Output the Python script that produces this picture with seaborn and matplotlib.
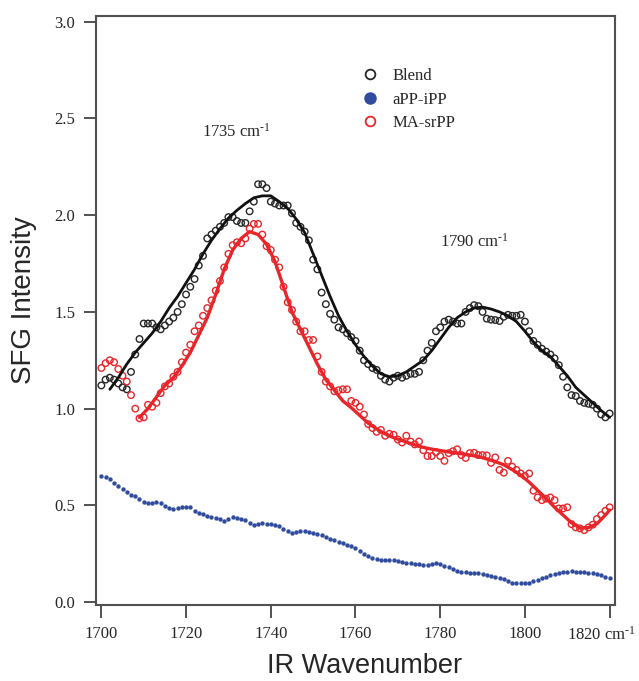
import numpy as np
import pandas as pd
import matplotlib
matplotlib.use("Agg")
import matplotlib.pyplot as plt
import matplotlib.transforms as mtransforms
import seaborn as sns
from matplotlib.lines import Line2D

# wavenumber axis for measured points (1 cm-1 step)
wavenumber = list(range(1700, 1821))

blend = [
    1.12, 1.15, 1.16, 1.15, 1.13, 1.11, 1.10, 1.19, 1.28, 1.36,
    1.44, 1.44, 1.44, 1.42, 1.41, 1.43, 1.45, 1.47, 1.50, 1.54,
    1.59, 1.63, 1.67, 1.74, 1.79, 1.88, 1.90, 1.92, 1.94, 1.96,
    1.99, 1.99, 1.97, 1.96, 1.96, 2.02, 2.07, 2.16, 2.16, 2.14,
    2.07, 2.06, 2.05, 2.05, 2.05, 2.01, 1.96, 1.94, 1.915, 1.87,
    1.77, 1.72, 1.60, 1.54, 1.49, 1.46, 1.42, 1.41, 1.39, 1.37,
    1.35, 1.30, 1.25, 1.23, 1.21, 1.20, 1.17, 1.15, 1.14, 1.16,
    1.17, 1.16, 1.17, 1.18, 1.18, 1.19, 1.25, 1.30, 1.34, 1.40,
    1.42, 1.45, 1.46, 1.45, 1.44, 1.44, 1.50, 1.52, 1.535, 1.53,
    1.50, 1.465, 1.46, 1.458, 1.453, 1.475, 1.485, 1.48, 1.48, 1.485,
    1.45, 1.40, 1.35, 1.33, 1.31, 1.295, 1.28, 1.26, 1.225, 1.165,
    1.11, 1.07, 1.065, 1.04, 1.03, 1.025, 1.02, 1.00, 0.97, 0.955,
    0.975,
]

app_ipp = [
    0.65, 0.645, 0.635, 0.615, 0.598, 0.585, 0.568, 0.556, 0.548, 0.535,
    0.52, 0.512, 0.513, 0.515, 0.512, 0.498, 0.488, 0.48, 0.488, 0.492,
    0.492, 0.49, 0.472, 0.462, 0.455, 0.446, 0.44, 0.436, 0.428, 0.42,
    0.43, 0.438, 0.435, 0.428, 0.422, 0.41, 0.40, 0.405, 0.408, 0.406,
    0.405, 0.398, 0.392, 0.38, 0.366, 0.356, 0.36, 0.368, 0.366, 0.362,
    0.358, 0.352, 0.345, 0.338, 0.328, 0.32, 0.313, 0.305, 0.297, 0.29,
    0.28, 0.262, 0.25, 0.24, 0.228, 0.222, 0.219, 0.218, 0.219, 0.217,
    0.21, 0.205, 0.202, 0.20, 0.198, 0.196, 0.193, 0.194, 0.197, 0.20,
    0.195, 0.188, 0.182, 0.172, 0.162, 0.156, 0.154, 0.152, 0.15, 0.148,
    0.145, 0.14, 0.136, 0.132, 0.127, 0.118, 0.108, 0.101, 0.10, 0.10,
    0.10, 0.101, 0.108, 0.116, 0.122, 0.128, 0.138, 0.146, 0.152, 0.156,
    0.158, 0.162, 0.158, 0.155, 0.154, 0.153, 0.152, 0.146, 0.14, 0.132,
    0.122,
]

ma_srpp = [
    1.21, 1.235, 1.25, 1.24, 1.205, 1.17, 1.14, 1.07, 1.00, 0.95,
    0.955, 1.02, 1.01, 1.03, 1.08, 1.115, 1.13, 1.165, 1.19, 1.24,
    1.29, 1.33, 1.40, 1.43, 1.48, 1.52, 1.56, 1.61, 1.66, 1.73,
    1.80, 1.845, 1.86, 1.855, 1.88, 1.93, 1.955, 1.955, 1.90, 1.84,
    1.82, 1.77, 1.73, 1.63, 1.55, 1.51, 1.45, 1.40, 1.40, 1.355,
    1.355, 1.27, 1.19, 1.14, 1.115, 1.09, 1.095, 1.10, 1.10, 1.04,
    1.03, 1.01, 0.97, 0.92, 0.90, 0.88, 0.89, 0.86, 0.87, 0.865,
    0.84, 0.825, 0.86, 0.83, 0.815, 0.83, 0.785, 0.755, 0.755, 0.775,
    0.755, 0.73, 0.77, 0.78, 0.79, 0.76, 0.745, 0.77, 0.772, 0.76,
    0.76, 0.758, 0.72, 0.748, 0.683, 0.669, 0.73, 0.70, 0.683, 0.665,
    0.652, 0.665, 0.576, 0.541, 0.527, 0.535, 0.541, 0.527, 0.484, 0.484,
    0.49, 0.403, 0.386, 0.381, 0.372, 0.386, 0.40, 0.43, 0.45, 0.472,
    0.49,
]

# fitted curves
blend_fit_x = [1702, 1704, 1706, 1708, 1710, 1712, 1714, 1716, 1718, 1720,
               1722, 1724, 1726, 1728, 1730, 1732, 1734, 1736, 1738, 1740,
               1742, 1744, 1746, 1748, 1750, 1752, 1754, 1756, 1758, 1760,
               1762, 1764, 1766, 1768, 1770, 1772, 1774, 1776, 1778, 1780,
               1782, 1784, 1786, 1788, 1790, 1792, 1794, 1796, 1798, 1800,
               1802, 1804, 1806, 1808, 1810, 1812, 1814, 1816, 1818, 1820]
blend_fit_y = [1.10, 1.16, 1.23, 1.29, 1.34, 1.39, 1.45, 1.52, 1.58, 1.65,
               1.72, 1.80, 1.87, 1.93, 1.985, 2.025, 2.06, 2.09, 2.10, 2.10,
               2.07, 2.035, 1.98, 1.91, 1.80, 1.69, 1.58, 1.48, 1.40, 1.33,
               1.27, 1.22, 1.18, 1.165, 1.17, 1.19, 1.22, 1.25, 1.30, 1.36,
               1.42, 1.47, 1.50, 1.52, 1.525, 1.515, 1.50, 1.48, 1.45, 1.40,
               1.345, 1.30, 1.27, 1.22, 1.17, 1.11, 1.07, 1.03, 0.99, 0.955]

ma_fit_x = [1709, 1711, 1713, 1715, 1717, 1719, 1721, 1723, 1725, 1727,
            1729, 1731, 1733, 1735, 1737, 1739, 1741, 1743, 1745, 1747,
            1749, 1751, 1753, 1755, 1757, 1759, 1761, 1763, 1765, 1767,
            1769, 1771, 1773, 1775, 1777, 1779, 1781, 1783, 1785, 1787,
            1789, 1791, 1793, 1795, 1797, 1799, 1801, 1803, 1805, 1807,
            1809, 1811, 1813, 1815, 1817, 1819, 1820]
ma_fit_y = [0.955, 1.00, 1.06, 1.12, 1.16, 1.22, 1.29, 1.38, 1.47, 1.59,
            1.72, 1.82, 1.88, 1.915, 1.90, 1.85, 1.76, 1.63, 1.50, 1.41,
            1.32, 1.23, 1.15, 1.095, 1.04, 1.005, 0.965, 0.925, 0.895, 0.87,
            0.85, 0.835, 0.82, 0.805, 0.795, 0.787, 0.78, 0.773, 0.767, 0.76,
            0.752, 0.74, 0.726, 0.71, 0.685, 0.657, 0.62, 0.578, 0.536, 0.49,
            0.45, 0.41, 0.383, 0.385, 0.405, 0.45, 0.476]

UNIT = r"cm$^{\text{-1}}$"
x_ticks = [1700, 1720, 1740, 1760, 1780, 1800, 1820]
x_tick_labels = ["1700", "1720", "1740", "1760", "1780", "1800", "1820 " + UNIT]
y_ticks = [0.0, 0.5, 1.0, 1.5, 2.0, 2.5, 3.0]

BLACK = "#262626"
BLUE = "#2f4c9f"
RED = "#e8262a"

sns.set_style("ticks")
plt.rcParams["font.family"] = ["Liberation Serif", "DejaVu Serif"]
plt.rcParams["mathtext.fontset"] = "custom"
plt.rcParams["mathtext.rm"] = "Liberation Serif"
plt.rcParams["mathtext.it"] = "Liberation Serif:italic"
plt.rcParams["mathtext.bf"] = "Liberation Serif:bold"


def main():
    df = pd.DataFrame({"wn": wavenumber, "blend": blend,
                       "app": app_ipp, "ma": ma_srpp})

    fig = plt.figure(figsize=(6.39, 6.81), dpi=100)
    ax = fig.add_axes([0.150, 0.1116, 0.812, 0.865])

    sns.scatterplot(data=df, x="wn", y="app", ax=ax, s=10, color=BLUE,
                    edgecolor=BLUE, linewidth=0, zorder=2)
    sns.scatterplot(data=df, x="wn", y="blend", ax=ax, s=22,
                    facecolor="none", edgecolor=BLACK, linewidth=1.0, zorder=3)
    sns.scatterplot(data=df, x="wn", y="ma", ax=ax, s=22,
                    facecolor="none", edgecolor=RED, linewidth=1.0, zorder=3)
    sns.lineplot(x=blend_fit_x, y=blend_fit_y, ax=ax, color="#111111",
                 linewidth=2.0, zorder=4)
    sns.lineplot(x=ma_fit_x, y=ma_fit_y, ax=ax, color=RED,
                 linewidth=2.4, zorder=4)

    ax.set_xlim(1698.7, 1821.2)
    ax.set_ylim(-0.015, 3.03)
    ax.set_xticks(x_ticks)
    ax.set_xticklabels(x_tick_labels)
    ax.set_yticks(y_ticks)
    ax.set_yticklabels([f"{v:.1f}" for v in y_ticks])
    ax.tick_params(axis="both", direction="out", length=9, width=1.3,
                   color="#444444", labelsize=12, pad=6)

    # last label carries the unit, nudge it left so it stays inside the figure
    last = ax.get_xticklabels()[-1]
    last.set_transform(last.get_transform() +
                       mtransforms.ScaledTranslation(-0.08, 0, fig.dpi_scale_trans))

    for sp in ax.spines.values():
        sp.set_color("#505050")
        sp.set_linewidth(1.5)

    ax.set_xlabel("IR Wavenumber", family="Liberation Sans", fontsize=19.5)
    ax.set_ylabel("SFG Intensity", family="Liberation Sans", fontsize=20)
    ax.xaxis.label.set_va("center")
    ax.xaxis.set_label_coords(0.518, -0.104)
    ax.yaxis.set_label_coords(-0.113, 0.518)

    ax.text(1732, 2.43, "1735 " + UNIT, fontsize=12, ha="center", va="center")
    ax.text(1788, 1.865, "1790 " + UNIT, fontsize=12, ha="center", va="center")

    handles = [
        Line2D([], [], linestyle="none", marker="o", markersize=7,
               markerfacecolor="none", markeredgecolor=BLACK, markeredgewidth=1.3),
        Line2D([], [], linestyle="none", marker="o", markersize=8,
               markerfacecolor=BLUE, markeredgecolor=BLUE),
        Line2D([], [], linestyle="none", marker="o", markersize=7,
               markerfacecolor="none", markeredgecolor=RED, markeredgewidth=1.3),
    ]
    ax.legend(handles, ["Blend", "aPP-iPP", "MA-srPP"], loc="upper left",
              bbox_to_anchor=(0.48, 0.937), frameon=False, fontsize=12,
              handletextpad=0.75, labelspacing=0.45, handlelength=1.2)

    fig.savefig("out.png", dpi=100)
    plt.close(fig)


if __name__ == "__main__":
    main()
